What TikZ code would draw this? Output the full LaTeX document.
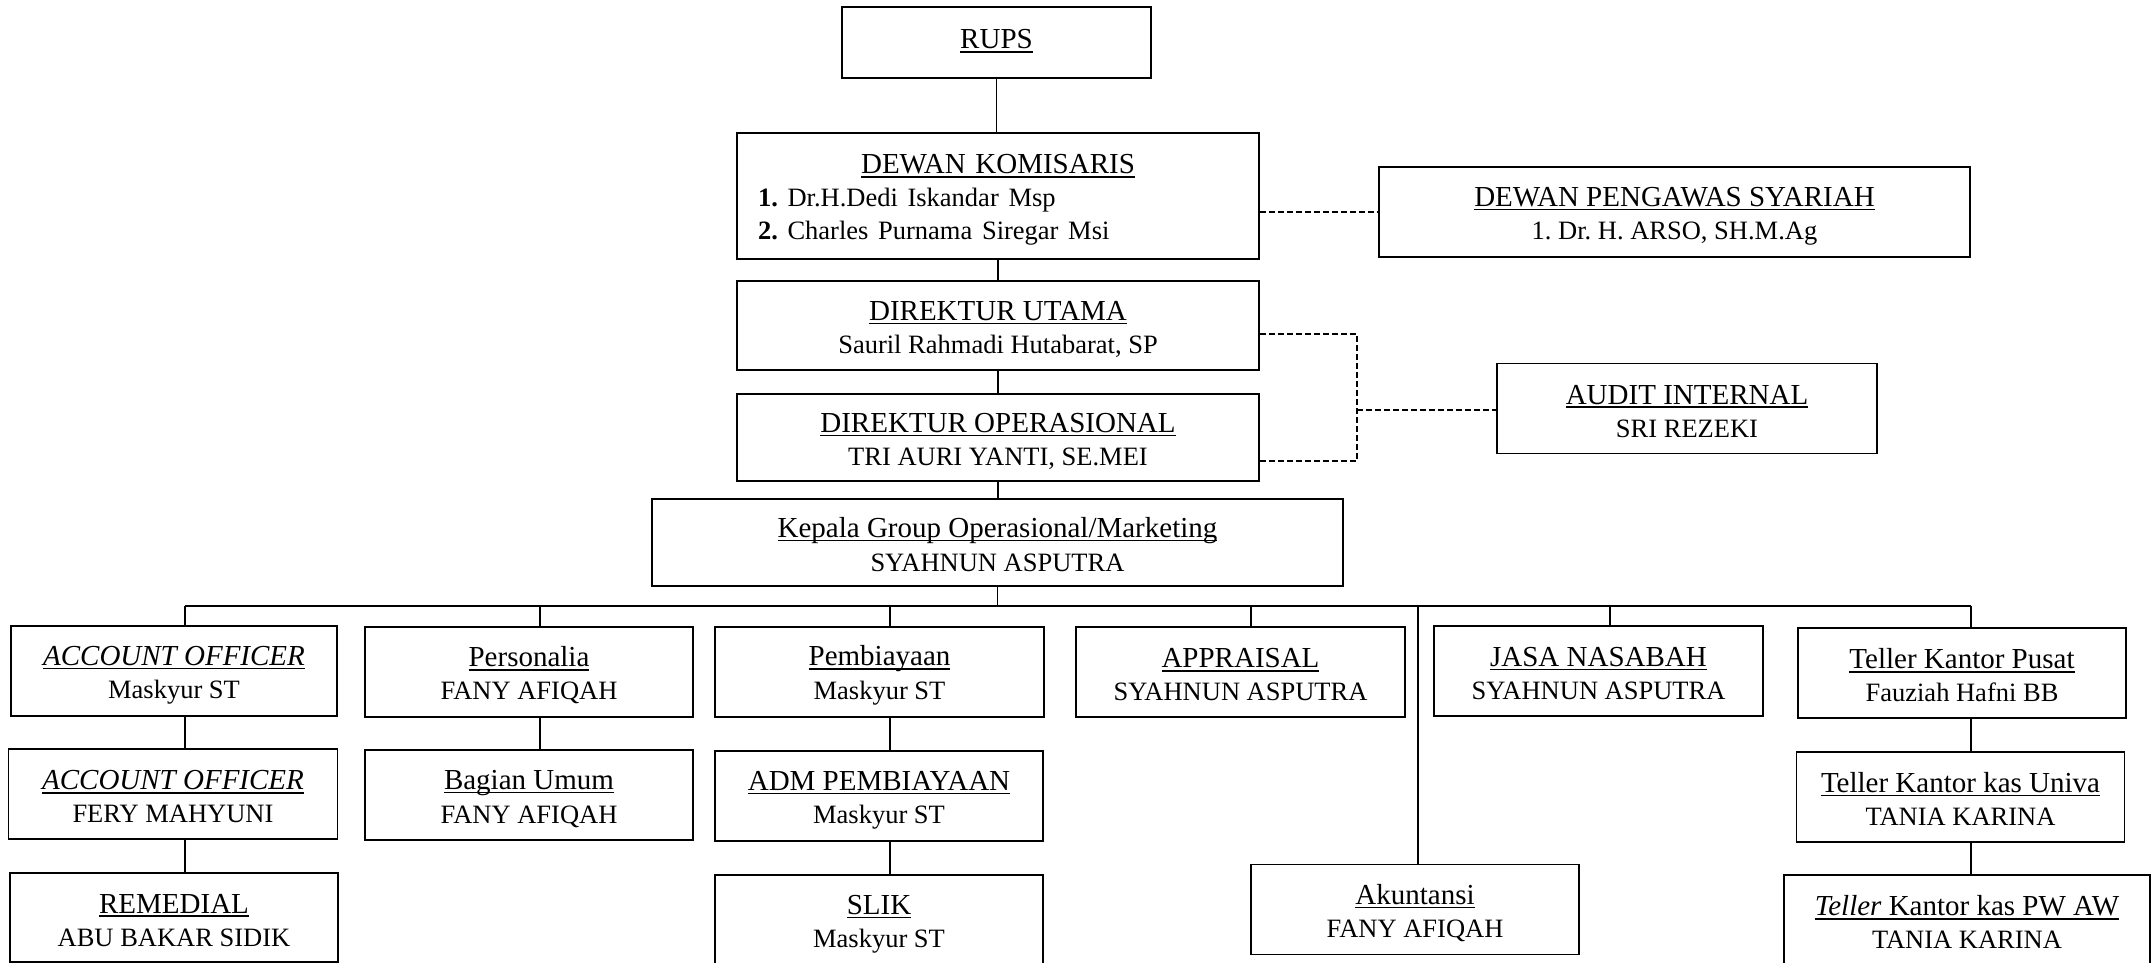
\documentclass[tikz,border=0pt]{standalone}
\usepackage{fontspec}
\setmainfont{Liberation Serif}
\newsavebox\ulbox
\newcommand\ttl[1]{\sbox\ulbox{#1}\rlap{\rule[-4pt]{\wd\ulbox}{1.6pt}}\usebox\ulbox}
\newcommand\st{\rule[-3pt]{0pt}{30pt}}
\newcommand\sm{\fontsize{26.5}{33}\selectfont}
\begin{document}
\frenchspacing
\begin{tikzpicture}[x=1pt,y=-1pt,
  bx/.style={draw=black, line width=1.6pt, inner sep=0pt, align=center, minimum height=90pt, font=\fontsize{29}{33}\selectfont\frenchspacing},
  ln/.style={line width=1.6pt},
  busln/.style={line width=2.4pt},
  dsh/.style={line width=1.4pt, dash pattern=on 6pt off 3pt}]
\useasboundingbox (0,0) rectangle (2151,963);
\fill[white] (0,0) rectangle (2151,963);
\clip (0,0) rectangle (2151,963);

% top
\node[bx, minimum width=309pt, minimum height=71pt] (rups) at (996.5,42.5) {\ttl{RUPS}\vphantom{Ag}};
\node[bx, minimum width=522pt, minimum height=126pt, text width=480pt, inner xsep=21pt, align=left] (dk) at (998,196)
  {\makebox[480pt][c]{\ttl{DEWAN KOMISARIS}}\st\\
   \makebox[480pt][l]{\sm\textbf{1.} Dr.H.Dedi Iskandar Msp}\st\\
   \makebox[480pt][l]{\sm\textbf{2.} Charles Purnama Siregar Msi}\st};
\node[bx, minimum width=591pt] (dps) at (1674.5,212) {\ttl{DEWAN PENGAWAS SYARIAH}\st\\\sm 1. Dr. H. ARSO, SH.M.Ag\st};
\node[bx, minimum width=522pt, minimum height=89pt] (du) at (998,325.5) {\ttl{DIREKTUR UTAMA}\st\\\sm Sauril Rahmadi Hutabarat, SP\st};
\node[bx, minimum width=522pt, minimum height=87pt] (dop) at (998,437.5) {\ttl{DIREKTUR OPERASIONAL}\st\\\sm TRI AURI YANTI, SE.MEI\st};
\node[bx, minimum width=380pt] (ai) at (1687,408.5) {\ttl{AUDIT INTERNAL}\st\\\sm SRI REZEKI\st};
\node[bx, minimum width=691pt, minimum height=87pt] (kp) at (997.5,542.5) {\ttl{Kepala Group Operasional/Marketing}\st\\\sm SYAHNUN ASPUTRA\st};

% row 1
\node[bx, minimum width=326pt] (ao1) at (174,671) {\ttl{\textit{ACCOUNT OFFICER}}\st\\\sm Maskyur ST\st};
\node[bx, minimum width=328pt] (per) at (529,672) {\ttl{Personalia}\st\\\sm FANY AFIQAH\st};
\node[bx, minimum width=329pt] (pem) at (879.5,672) {\ttl{Pembiayaan}\st\\\sm Maskyur ST\st};
\node[bx, minimum width=329pt] (app) at (1240.5,672) {\ttl{APPRAISAL}\st\\\sm SYAHNUN ASPUTRA\st};
\node[bx, minimum width=329pt] (jasa) at (1598.5,670.7) {\ttl{JASA NASABAH}\st\\\sm SYAHNUN ASPUTRA\st};
\node[bx, minimum width=328pt] (tkp) at (1962,673) {\ttl{Teller Kantor Pusat}\st\\\sm Fauziah Hafni BB\st};

% row 2
\node[bx, minimum width=329pt] (ao2) at (173,794) {\ttl{\textit{ACCOUNT OFFICER}}\st\\\sm FERY MAHYUNI\st};
\node[bx, minimum width=328pt] (bu) at (529,795) {\ttl{Bagian Umum}\st\\\sm FANY AFIQAH\st};
\node[bx, minimum width=328pt] (adm) at (879,796) {\ttl{ADM PEMBIAYAAN}\st\\\sm Maskyur ST\st};
\node[bx, minimum width=328pt] (tku) at (1960.5,796.7) {\ttl{Teller Kantor kas Univa}\st\\\sm TANIA KARINA\st};

% row 3
\node[bx, minimum width=328pt, minimum height=89pt] (rem) at (174,917.5) {\ttl{REMEDIAL}\st\\\sm ABU BAKAR SIDIK\st};
\node[bx, minimum width=328pt] (slik) at (879,920) {\ttl{SLIK}\st\\\sm Maskyur ST\st};
\node[bx, minimum width=328pt] (ak) at (1415,909.5) {\ttl{Akuntansi}\st\\\sm FANY AFIQAH\st};
\node[bx, minimum width=366pt] (tpw) at (1967,920) {\ttl{\textit{Teller} Kantor kas PW AW}\st\\\sm TANIA KARINA\st};

% bus coordinates
\coordinate (d1) at (185,606);
\coordinate (d2) at (540,606);
\coordinate (d3) at (890,606);
\coordinate (d4) at (1251,606);
\coordinate (dak) at (1418,606);
\coordinate (d5) at (1610,606);
\coordinate (d6) at (1971,606);

% trunk
\draw[ln] (rups.south) -- (rups.south |- dk.north);
\draw[ln] (dk.south) -- (dk.south |- du.north);
\draw[ln] (du.south) -- (du.south |- dop.north);
\draw[ln] (dop.south) -- (dop.south |- kp.north);
\draw[ln] (kp.south) -- (kp.south |- d1);
\draw[busln] (d1) -- (d6);

% drops
\draw[ln] (d1) -- (d1 |- ao1.north);
\draw[ln] (d2) -- (d2 |- per.north);
\draw[ln] (d3) -- (d3 |- pem.north);
\draw[ln] (d4) -- (d4 |- app.north);
\draw[ln] (dak) -- (dak |- ak.north);
\draw[ln] (d5) -- (d5 |- jasa.north);
\draw[ln] (d6) -- (d6 |- tkp.north);

% column links
\draw[ln] (d1 |- ao1.south) -- (d1 |- ao2.north);
\draw[ln] (d1 |- ao2.south) -- (d1 |- rem.north);
\draw[ln] (d2 |- per.south) -- (d2 |- bu.north);
\draw[ln] (d3 |- pem.south) -- (d3 |- adm.north);
\draw[ln] (d3 |- adm.south) -- (d3 |- slik.north);
\draw[ln] (d6 |- tkp.south) -- (d6 |- tku.north);
\draw[ln] (d6 |- tku.south) -- (d6 |- tpw.north);

% dashed staff links
\draw[dsh] (dk.east |- dps.west) -- (dps.west);
\coordinate (jt) at (1357,334);
\coordinate (jb) at (1357,461);
\coordinate (jm) at (1357,410);
\draw[dsh] (du.east |- jt) -- (jt) -- (jb) -- (dop.east |- jb);
\draw[dsh] (jm) -- (ai.west |- jm);
\end{tikzpicture}
\end{document}
